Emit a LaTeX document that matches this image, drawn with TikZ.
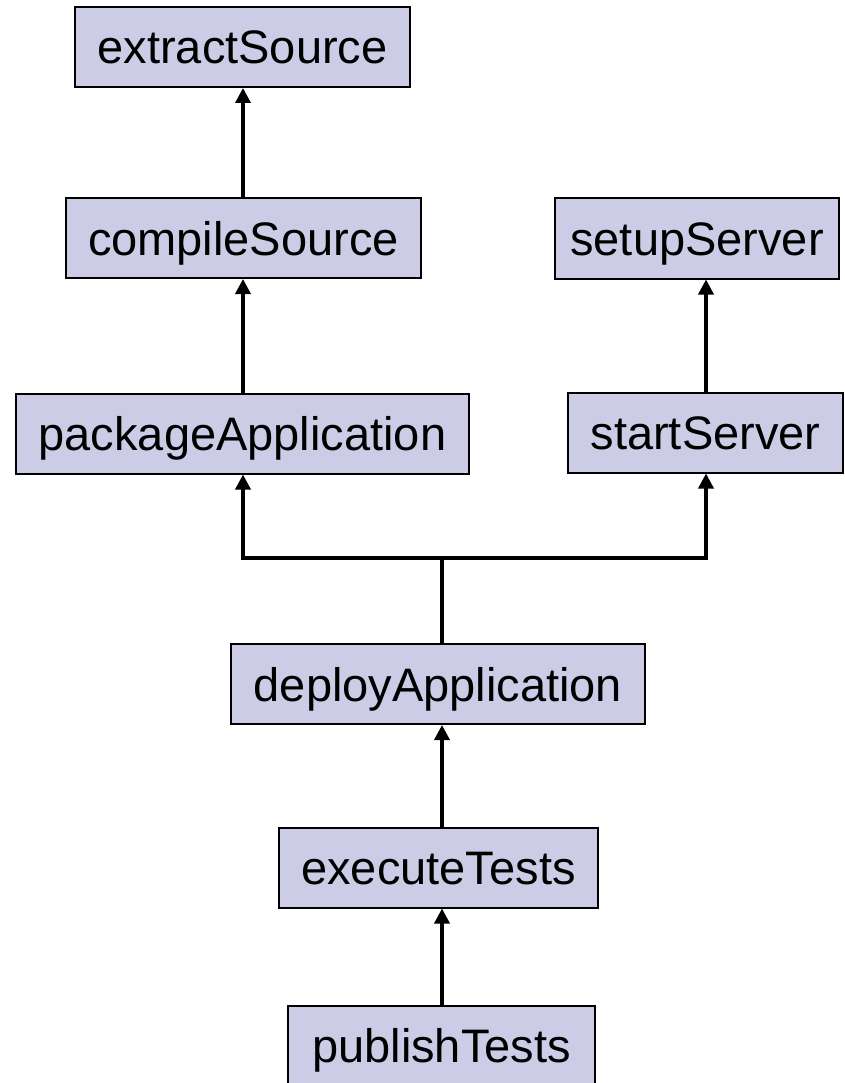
\documentclass[tikz,border=0pt]{standalone}
\usepackage{fontspec}
\setmainfont{Liberation Sans}
\usetikzlibrary{arrows.meta}
\definecolor{boxfill}{RGB}{204,204,230}
\tikzset{
  task/.style={draw=black, line width=2pt, fill=boxfill, minimum height=80pt,
    inner xsep=22.5pt, inner ysep=0pt, text height=34pt, text depth=0pt,
    font=\fontsize{47}{56}\selectfont, anchor=center},
  dep/.style={line width=3.5pt, draw=black, -{Triangle[length=15pt,width=15pt]}}
}
\begin{document}
\begin{tikzpicture}[x=1pt,y=-1pt]
\useasboundingbox (0,0) rectangle (844,1083);
\node[task] (extractSource) at (242.5,47) {extractSource};
\node[task] (compileSource) at (243.5,238) {compileSource};
\node[task, inner xsep=15pt] (setupServer) at (697,238.5) {setupServer};
\node[task] (packageApplication) at (242.5,433.5) {packageApplication};
\node[task] (startServer) at (705.5,432.5) {startServer};
\node[task] (deployApplication) at (438,684) {deployApplication};
\node[task] (executeTests) at (438.5,867.5) {executeTests};
\node[task, inner xsep=24pt] (publishTests) at (441.5,1045.5) {publishTests};
\coordinate (cx) at (243,0);
\coordinate (sx) at (706,0);
\coordinate (dx) at (442,0);
\coordinate (j) at (442,558);
\draw[dep] (cx |- compileSource.north) -- (cx |- extractSource.south);
\draw[dep] (cx |- packageApplication.north) -- (cx |- compileSource.south);
\draw[dep] (sx |- startServer.north) -- (sx |- setupServer.south);
\draw[dep] (dx |- deployApplication.north) -- (j) -| (cx |- packageApplication.south);
\draw[dep] (j) -| (sx |- startServer.south);
\draw[dep] (dx |- executeTests.north) -- (dx |- deployApplication.south);
\draw[dep] (dx |- publishTests.north) -- (dx |- executeTests.south);
\end{tikzpicture}
\end{document}
